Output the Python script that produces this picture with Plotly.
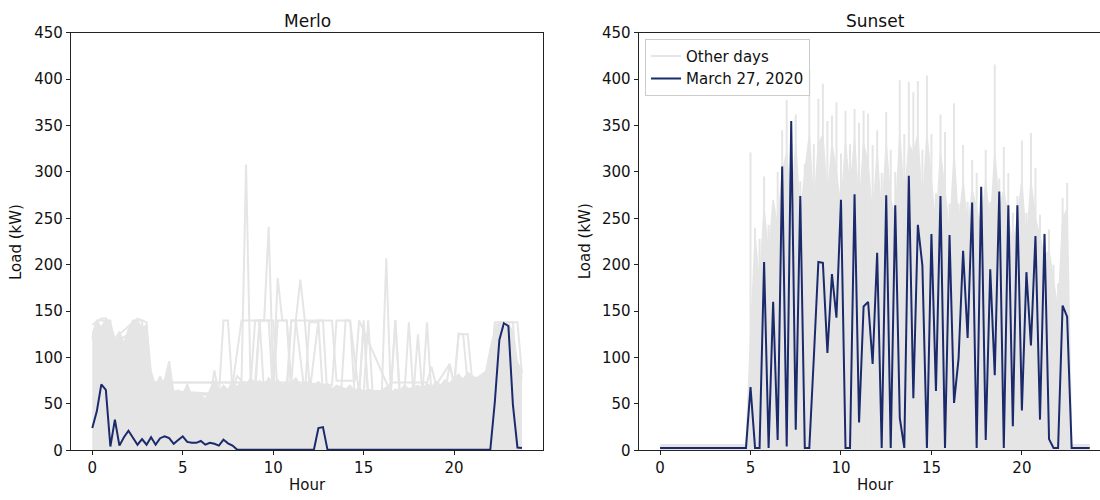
import plotly.graph_objects as go

# ---------------- data ----------------
# 15-minute time steps (hour of day)
hours = [i * 0.25 for i in range(96)]

# March 27, 2020 load (kW), Merlo
merlo_march27 = [
    24, 42, 71, 65, 4, 33, 5, 14,
    21, 14, 6, 12, 6, 14, 6, 13,
    15, 13, 7, 11, 15, 9, 8, 8,
    10, 6, 8, 7, 5, 11.5, 7.5, 5,
    0.7, 0.5, 0.5, 0.5, 0.5, 0.5, 0.5, 0.5,
    0.5, 0.5, 0.5, 0.5, 0.5, 0.5, 0.5, 0.5,
    0.5, 0.5, 24, 25, 0.7, 0.5, 0.5, 0.5,
    0.5, 0.5, 0.5, 0.5, 0.5, 0.5, 0.5, 0.5,
    0.5, 0.5, 0.5, 0.5, 0.5, 0.5, 0.5, 0.5,
    0.5, 0.5, 0.5, 0.5, 0.5, 0.5, 0.5, 0.5,
    0.5, 0.5, 0.5, 0.5, 0.5, 0.5, 0.5, 0.5,
    0.5, 52, 119, 137, 134, 49, 3, 2.5,
]

# March 27, 2020 load (kW), Sunset
sunset_march27 = [
    2.5, 2.5, 2.5, 2.5, 2.5, 2.5, 2.5, 2.5,
    2.5, 2.5, 2.5, 2.5, 2.5, 2.5, 2.5, 2.5,
    2.5, 2.5, 2.5, 2.5, 68, 2.5, 2.5, 203,
    2.5, 160, 11, 306, 4, 355, 22, 274,
    2.5, 2.5, 100, 203, 202, 105, 190, 143,
    270, 2.5, 2.5, 276, 30, 155, 160, 93,
    213, 2.5, 275, 2.5, 264, 35, 2.5, 296,
    56, 243, 199, 2.5, 233, 64, 274, 2.5,
    232, 51, 99, 215, 121, 267, 2.5, 284,
    11, 195, 81, 279, 2.5, 264, 26, 264,
    43, 192, 113, 231, 33, 233, 12, 2.5,
    2.5, 156, 144, 2.5, 2.5, 2.5, 2.5, 2.5,
]

# Other days, Merlo: upper edge of the dense mass of most days (15-minute steps)
merlo_other_band = [
    125, 140, 132, 142, 138, 120, 128, 115,
    130, 138, 140, 132, 135, 85, 70, 80,
    70, 90, 62, 65, 60, 72, 58, 62,
    60, 55, 65, 75, 62, 70, 65, 75,
    68, 75, 70, 78, 72, 75, 70, 78,
    72, 76, 70, 75, 72, 78, 70, 74,
    72, 70, 74, 68, 72, 66, 70, 68,
    66, 70, 64, 68, 62, 66, 64, 62,
    64, 68, 62, 66, 64, 70, 66, 68,
    70, 66, 72, 68, 74, 70, 76, 72,
    78, 82, 76, 84, 80, 78, 82, 85,
    110, 130, 138, 132, 136, 128, 95, 85,
]

# ... and individual other days standing out of the mass
merlo_day1_hours = [0, 0.25, 1.0, 1.25, 2.0, 2.25, 2.75, 3.0, 3.25, 4.0, 4.25, 4.5, 7.0, 7.25,
                    7.5, 7.75, 8.0, 8.25, 8.5, 8.75, 9.0, 9.75, 10.0, 12.0, 12.5, 12.75, 13.0,
                    16.0, 16.25, 16.5, 18.0, 22.0, 22.25, 23.25, 23.5, 23.75]
merlo_day1_kw = [120, 140, 140, 70, 130, 140, 140, 138, 70, 75, 96, 60, 60, 140,
                 140, 65, 80, 75, 308, 70, 140, 140, 55, 60, 140, 140, 55,
                 60, 207, 60, 65, 60, 138, 138, 70, 80]

merlo_day2_hours = [0, 0.5, 0.75, 1.0, 1.5, 2.5, 2.75, 3.0, 3.5, 9.0, 9.25, 9.5, 9.75, 10.0,
                    10.25, 10.5, 10.75, 11.0, 11.25, 11.5, 11.75, 12.0, 13.25, 13.5, 14.25,
                    14.5, 15.0, 15.25, 15.5, 17.25, 17.5, 17.75, 20.0, 20.25, 20.5, 20.75,
                    22.0, 22.25, 22.5, 23.5, 23.75]
merlo_day2_kw = [135, 142, 142, 100, 125, 142, 140, 60, 73, 73, 140, 140, 241, 75,
                 186, 140, 140, 72, 140, 184, 140, 72, 70, 140, 140,
                 60, 60, 140, 60, 60, 138, 60, 70, 126, 125, 72,
                 78, 100, 138, 138, 82]

merlo_day3_hours = [0, 1, 2, 3, 3.5, 12.0, 12.25, 16.25, 16.5, 18.5, 18.75, 19.0, 19.75,
                    20.0, 22.0, 23.75]
merlo_day3_kw = [55, 70, 62, 78, 73, 73, 64, 64, 73, 73, 90, 70, 93, 72, 72, 78]

merlo_day4_hours = [0, 2, 3.0, 3.25, 6.5, 6.75, 7.0, 10.0, 10.25, 10.75, 11.0, 11.75, 12.0,
                    12.5, 12.75, 13.75, 14.0, 14.25, 14.75, 15.0, 15.25, 16.5, 16.75, 17.0,
                    18.25, 18.5, 18.75, 21.0, 22.0, 22.25, 23.0, 23.25, 23.75]
merlo_day4_kw = [100, 125, 128, 60, 55, 86, 60, 60, 140, 140, 60, 60, 138,
                 138, 60, 60, 140, 140, 60, 140, 55, 60, 140, 55,
                 60, 138, 60, 70, 80, 135, 138, 90, 75]

merlo_day5_hours = [0, 3.0, 3.25, 7.5, 7.75, 8.25, 9.25, 9.5, 10.75, 11.0, 11.25, 11.75,
                    12.0, 14.75, 15.0, 15.25, 17.75, 18.0, 18.25, 19.5, 19.75, 20.0, 23.75]
merlo_day5_kw = [110, 130, 65, 60, 70, 140, 140, 60, 60, 140, 140, 60,
                 60, 60, 135, 60, 60, 125, 60, 60, 93, 70, 80]

merlo_day6_hours = [0, 2.0, 3.0, 3.25, 9.0, 9.25, 10.0, 10.25, 10.75, 11.0, 13.25, 13.5,
                    14.5, 14.75, 16.5, 16.75, 17.0, 20.0, 20.25, 20.75, 21.0, 23.75]
merlo_day6_kw = [90, 120, 118, 60, 60, 140, 140, 60, 70, 140, 140, 75,
                 75, 140, 62, 140, 62, 70, 125, 125, 75, 80]

# Other days, Sunset: upper edge of the dense mass of most days (15-minute steps)
sunset_other_band = [
    6, 6, 6, 6, 6, 6, 6, 6,
    6, 6, 6, 6, 6, 6, 6, 6,
    6, 6, 6, 6, 120, 230, 180, 260,
    210, 270, 240, 300, 320, 260, 330, 250,
    300, 340, 260, 330, 340, 270, 330, 300,
    260, 330, 280, 335, 260, 330, 310, 250,
    320, 250, 330, 270, 250, 340, 270, 330,
    320, 340, 260, 340, 290, 240, 320, 280,
    230, 320, 240, 290, 240, 280, 260, 240,
    290, 240, 320, 260, 280, 250, 220, 250,
    290, 220, 290, 250, 230, 210, 215, 180,
    150, 250, 260, 6, 6, 6, 6, 6,
]

# ... and the highest other-day load at each 15-minute step (0 = none above the mass)
sunset_other_peak = [
    0, 0, 0, 0, 0, 0, 0, 0,
    0, 0, 0, 0, 0, 0, 0, 0,
    0, 0, 0, 0, 321, 240, 228, 295,
    243, 265, 300, 345, 378, 330, 362, 290,
    309, 410, 330, 379, 395, 355, 361, 375,
    320, 366, 330, 368, 353, 366, 363, 329,
    345, 299, 365, 324, 300, 399, 341, 397,
    386, 398, 324, 404, 341, 277, 362, 343,
    266, 374, 266, 329, 268, 313, 299, 284,
    324, 268, 416, 293, 327, 299, 256, 274,
    334, 256, 342, 304, 254, 234, 238, 200,
    180, 272, 288, 0, 0, 0, 0, 0,
]

y_ticks = [0, 50, 100, 150, 200, 250, 300, 350, 400, 450]
x_ticks = [0, 5, 10, 15, 20]

# ---------------- style ----------------
GRAY = "#e5e5e5"
NAVY = "#1b2a6b"
FONT = "DejaVu Sans"
W, H = 1100, 500


# the viewer shows the page slightly shrunk and offset; map target screen pixels to paper
def px_x(r):
    return (r - 2.6) / 0.9944 / W


def px_y(r):
    return 1 - (r - 8) / 0.97 / H


fig = go.Figure()

# ----- Merlo (left) -----
fig.add_trace(go.Scatter(x=hours, y=merlo_other_band, mode="lines",
                         line=dict(color=GRAY, width=1.5), fill="tozeroy", fillcolor=GRAY,
                         showlegend=False, hoverinfo="skip", xaxis="x", yaxis="y"))
for hx, ky in [(merlo_day1_hours, merlo_day1_kw), (merlo_day2_hours, merlo_day2_kw),
               (merlo_day3_hours, merlo_day3_kw), (merlo_day4_hours, merlo_day4_kw),
               (merlo_day5_hours, merlo_day5_kw), (merlo_day6_hours, merlo_day6_kw)]:
    fig.add_trace(go.Scatter(x=hx, y=ky, mode="lines", line=dict(color=GRAY, width=2),
                             showlegend=False, xaxis="x", yaxis="y"))
fig.add_trace(go.Scatter(x=hours, y=merlo_march27, mode="lines",
                         line=dict(color=NAVY, width=2), showlegend=False,
                         xaxis="x", yaxis="y"))

# ----- Sunset (right) -----
fig.add_trace(go.Scatter(x=hours, y=sunset_other_band, mode="lines",
                         line=dict(color=GRAY, width=1.5), fill="tozeroy", fillcolor=GRAY,
                         showlegend=False, hoverinfo="skip", xaxis="x2", yaxis="y2"))
spike_x, spike_y = [], []
for h, p in zip(hours, sunset_other_peak):
    if p > 0:
        spike_x += [h, h, None]
        spike_y += [0, p, None]
fig.add_trace(go.Scatter(x=spike_x, y=spike_y, mode="lines", line=dict(color=GRAY, width=2),
                         name="Other days", showlegend=True, xaxis="x2", yaxis="y2"))
fig.add_trace(go.Scatter(x=hours, y=sunset_march27, mode="lines",
                         line=dict(color=NAVY, width=2), name="March 27, 2020",
                         showlegend=True, xaxis="x2", yaxis="y2"))

# ---------------- layout ----------------
L1, R1 = px_x(73), px_x(543)
L2 = px_x(637.6)
Y0, Y1 = px_y(452), px_y(32)
hr_per_paper = 26.125 / (R1 - L1)          # same hour scale in both panels
x2_max = -1.1875 + (1.0 - L2) * hr_per_paper

axis_common = dict(showgrid=False, zeroline=False, showline=True, linecolor="#222222",
                   linewidth=1, ticks="outside", ticklen=4, tickcolor="#222222",
                   tickfont=dict(family=FONT, size=15, color="#111111"))

fig.update_layout(
    width=W, height=H, autosize=False,
    margin=dict(l=0, r=0, t=0, b=0),
    paper_bgcolor="white", plot_bgcolor="white",
    font=dict(family=FONT, size=15, color="#111111"),
    xaxis=dict(domain=[L1, R1], range=[-1.1875, 24.9375], tickvals=x_ticks,
               mirror=True, anchor="y", **axis_common),
    yaxis=dict(domain=[Y0, Y1], range=[0, 450], tickvals=y_ticks,
               mirror=True, anchor="x", **axis_common),
    xaxis2=dict(domain=[L2, 1.0], range=[-1.1875, x2_max], tickvals=x_ticks,
                mirror=True, anchor="y2", **axis_common),
    yaxis2=dict(domain=[Y0, Y1], range=[0, 450], tickvals=y_ticks,
                mirror=False, anchor="x2", **axis_common),
    legend=dict(x=px_x(644), y=px_y(38), xanchor="left", yanchor="top",
                bgcolor="rgba(255,255,255,0.8)", bordercolor="#cccccc", borderwidth=1,
                font=dict(family=FONT, size=15, color="#111111"), tracegroupgap=0),
    showlegend=True,
)

ann = []
for cx, title in [(308, "Merlo"), (873, "Sunset")]:
    ann.append(dict(text=title, x=px_x(cx), y=px_y(20), xref="paper", yref="paper",
                    showarrow=False, xanchor="center", yanchor="middle",
                    font=dict(family=FONT, size=17, color="#111111")))
    ann.append(dict(text="Hour", x=px_x(cx), y=px_y(487), xref="paper", yref="paper",
                    showarrow=False, xanchor="center", yanchor="middle",
                    font=dict(family=FONT, size=15, color="#111111")))
for lx in [18, 584]:
    ann.append(dict(text="Load (kW)", x=px_x(lx), y=px_y(242), xref="paper", yref="paper",
                    showarrow=False, xanchor="center", yanchor="middle", textangle=-90,
                    font=dict(family=FONT, size=15, color="#111111")))
fig.update_layout(annotations=ann)

fig.write_html("out.html")
